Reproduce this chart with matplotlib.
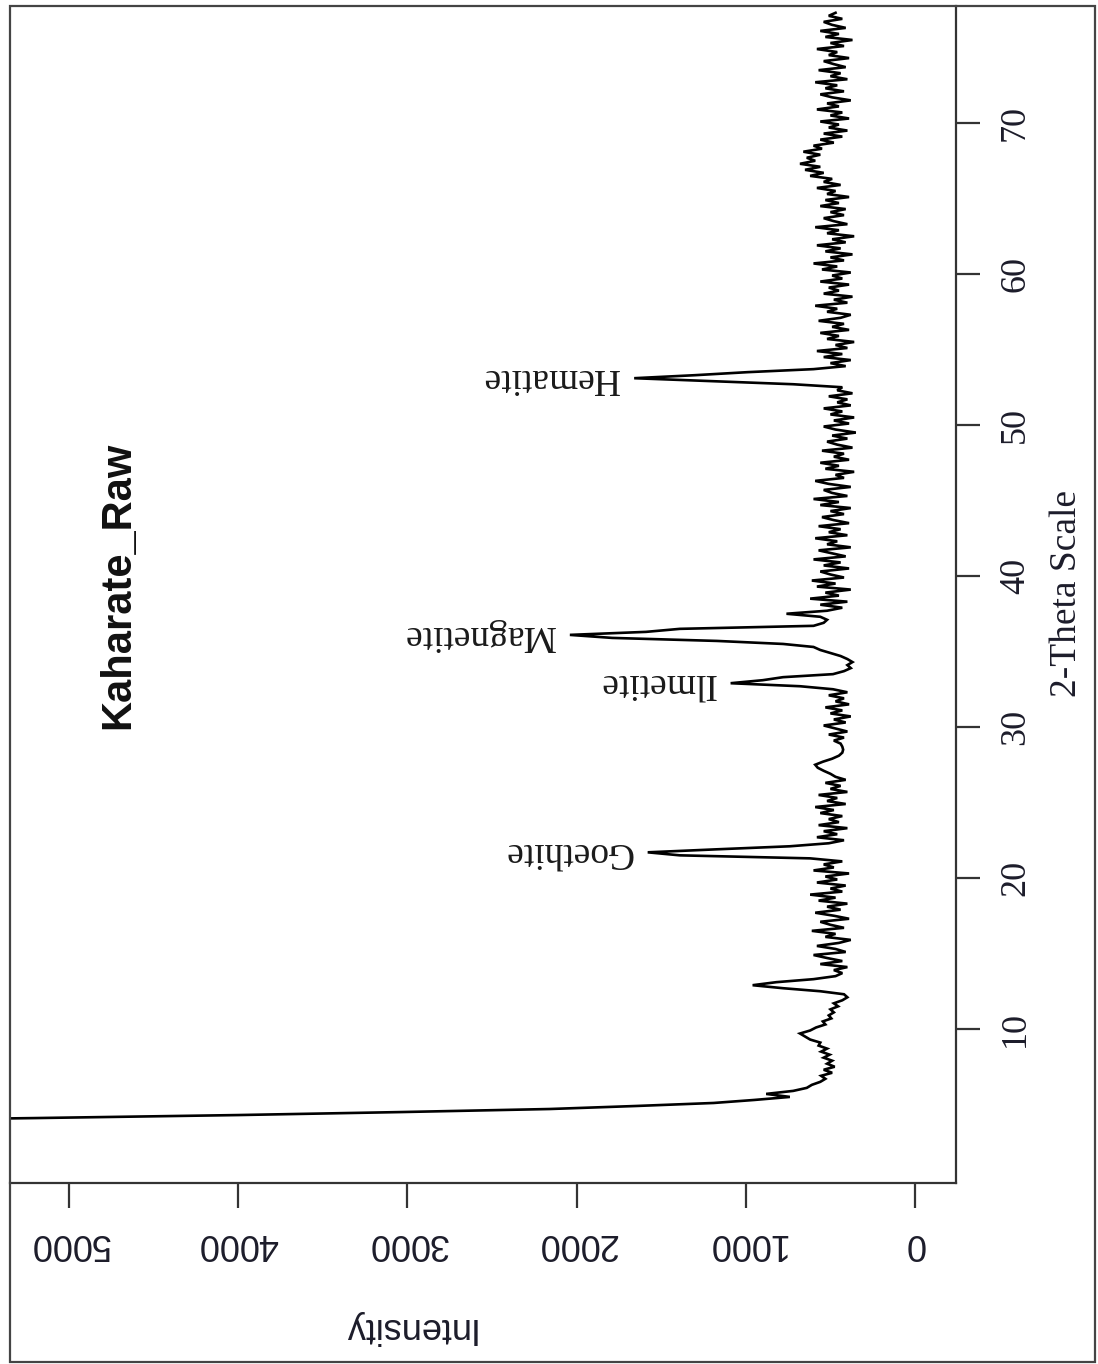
import numpy as np
import matplotlib
matplotlib.use("Agg")
import matplotlib.pyplot as plt
from matplotlib.patches import Rectangle

# Powder diffraction scan: 2-theta start / step and counts per step
scan_start = 3.9
scan_step = 0.2

counts_04_14 = [6600, 5200, 4000, 3030, 2160, 1650, 1190, 950, 740, 880,
                720, 640, 610, 560, 530, 555, 490, 540, 475, 520,
                490, 540, 505, 555, 520, 570, 560, 620, 650, 680,
                620, 585, 530, 545, 495, 510, 480, 500, 455, 480,
                430, 400, 420, 560, 780, 960, 820, 600, 470, 430]
counts_14_24 = [480, 400, 560, 430, 520, 600, 410, 470, 580, 450,
                380, 530, 470, 610, 420, 500, 560, 390, 480, 590,
                440, 520, 400, 570, 470, 620, 430, 500, 410, 580,
                460, 530, 390, 600, 480, 540, 430, 620, 1390, 1580,
                1170, 740, 510, 420, 580, 460, 540, 400, 570, 450]
counts_24_34 = [510, 430, 560, 480, 590, 410, 520, 460, 570, 400,
                500, 440, 530, 410, 470, 500, 540, 575, 590, 545,
                490, 450, 430, 425, 430, 440, 480, 420, 510, 400,
                470, 540, 410, 480, 380, 500, 430, 530, 390, 470,
                420, 510, 400, 485, 680, 1090, 900, 780, 485, 420]
counts_34_44 = [380, 400, 370, 400, 440, 500, 560, 600, 780, 1170,
                1790, 2040, 1590, 1390, 600, 540, 520, 560, 760, 520,
                430, 560, 400, 620, 450, 530, 380, 580, 470, 610,
                420, 500, 560, 390, 540, 440, 600, 410, 490, 570,
                380, 520, 460, 590, 400, 510, 440, 570, 390, 480]
counts_44_54 = [550, 420, 500, 380, 560, 450, 600, 400, 490, 540,
                380, 510, 590, 420, 470, 360, 530, 450, 560, 390,
                480, 420, 550, 370, 460, 520, 400, 490, 350, 470,
                540, 390, 480, 360, 500, 430, 540, 380, 460, 400,
                510, 370, 460, 430, 720, 1190, 1660, 1300, 990, 600]
counts_54_64 = [410, 500, 380, 540, 430, 580, 400, 470, 360, 520,
                450, 560, 390, 490, 420, 570, 440, 380, 520, 460,
                590, 400, 480, 370, 540, 450, 510, 390, 560, 430,
                490, 380, 550, 460, 600, 420, 500, 370, 530, 440,
                580, 410, 490, 360, 520, 450, 590, 400, 480, 540]
counts_64_77 = [420, 500, 410, 560, 450, 530, 390, 520, 470, 580,
                440, 540, 490, 620, 540, 650, 560, 680, 590, 640,
                560, 660, 550, 600, 480, 560, 430, 540, 400, 510,
                450, 560, 390, 500, 430, 580, 450, 520, 380, 490,
                560, 420, 530, 460, 590, 400, 500, 440, 570, 410,
                480, 540, 390, 510, 460, 580, 420, 500, 370, 530,
                450, 560, 410, 490, 540, 430, 510, 470]

intensity = np.array(counts_04_14 + counts_14_24 + counts_24_34 + counts_34_44
                     + counts_44_54 + counts_54_64 + counts_64_77, dtype=float)
two_theta = scan_start + scan_step * np.arange(intensity.size)

phase_names = ["Goethite", "Ilmetite", "Magnetite", "Hematite"]
phase_peaks = [21.7, 32.9, 36.1, 53.1]

intensity_ticks = [0, 1000, 2000, 3000, 4000, 5000]
theta_ticks = [10, 20, 30, 40, 50, 60, 70]

W, H = 1098, 1364
fig = plt.figure(figsize=(W / 100, H / 100), dpi=100)
fig.patch.set_facecolor("white")


def px_box(left, top, right, bottom):
    return [left / W, 1 - bottom / H, (right - left) / W, (bottom - top) / H]


ax = fig.add_axes(px_box(9.5, 6, 956, 1183))
ax.plot(intensity, two_theta, color="black", lw=1.9, solid_joinstyle="miter")

ax.set_xlim(5352, -242)
ax.set_ylim(-0.2, 77.75)

ax.set_xticks(intensity_ticks)
ax.set_xticklabels([str(v) for v in intensity_ticks], rotation=180,
                   fontsize=26, family="Liberation Sans", color="#1c1c2a")
ax.yaxis.tick_right()
ax.set_yticks(theta_ticks)
ax.set_yticklabels([str(v) for v in theta_ticks], rotation=90, va="center",
                   fontsize=26, family="Liberation Serif", color="#1c1c2a")
ax.tick_params(axis="x", direction="out", length=18, width=1.6, pad=13,
               color="#333333")
ax.tick_params(axis="y", direction="out", length=17, width=1.6, pad=14,
               color="#333333", left=False, right=True)

for side in ("right", "bottom"):
    ax.spines[side].set_linewidth(1.6)
    ax.spines[side].set_color("#333333")
for side in ("left", "top"):
    ax.spines[side].set_visible(False)

# phase labels beside their peak tips
for name, pos in zip(phase_names, phase_peaks):
    i = int(np.argmin(np.abs(two_theta - pos)))
    ax.annotate(name, xy=(intensity[i], two_theta[i]), xytext=(-15, 0),
                textcoords="offset pixels", rotation=180, ha="right",
                va="center", fontsize=27, family="Liberation Serif",
                color="#1a1a1a")

fig.text(118 / W, 1 - 585 / H, "Kaharate_Raw", rotation=90, fontsize=30,
         fontweight="bold", family="Liberation Sans", ha="center",
         va="center", color="#111111")
fig.text(1067 / W, 1 - 593 / H, "2-Theta Scale", rotation=90, fontsize=27,
         family="Liberation Serif", ha="center", va="center", color="#1c1c2a")
fig.text(408 / W, 1 - 1328 / H, "Intensity", rotation=180, fontsize=26,
         family="Liberation Sans", ha="center", va="center", color="#1c1c2a")

# outer frame
fig.patches.append(Rectangle((9.5 / W, 1 - 1362 / H), (1095 - 9.5) / W,
                             (1362 - 6) / H, transform=fig.transFigure,
                             fill=False, lw=1.6, edgecolor="#444444"))

fig.savefig("out.png", dpi=100)
